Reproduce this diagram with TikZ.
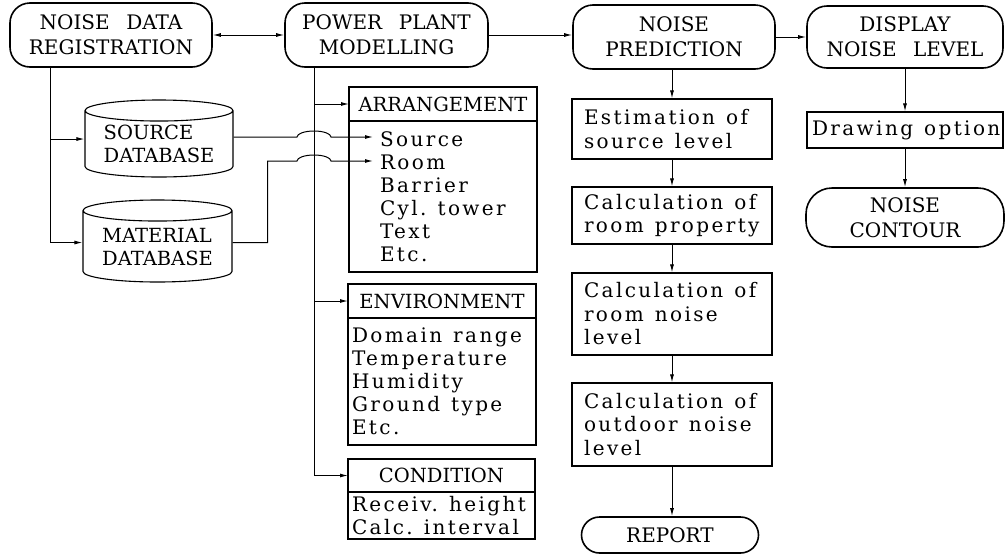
\documentclass[tikz,border=0pt]{standalone}
\usepackage{fontspec}
\setmainfont{DejaVu Serif}
\newfontfamily\capsfont{DejaVu Serif}[WordSpace=2.6]
\newfontfamily\listfont{DejaVu Serif}[LetterSpace=12]
\newcommand{\ws}{\hspace{11pt}}
\usetikzlibrary{positioning,shapes.geometric,arrows.meta,calc}

\tikzset{
  conn/.style={-{Latex[length=8pt,width=4pt]}, line width=1pt},
  termbox/.style={draw, line width=1.6pt, rounded corners=20pt, align=center,
    font=\capsfont\fontsize{20}{25}\selectfont, inner sep=0pt},
  headbox/.style={draw, line width=1.1pt, font=\capsfont\fontsize{19.5}{23}\selectfont,
    inner sep=0pt, outer sep=0pt},
  listbox/.style={draw, line width=1.1pt, font=\listfont\fontsize{20}{23}\selectfont,
    align=left, inner ysep=0pt, outer sep=0pt},
  procbox/.style={draw, line width=1.1pt, font=\listfont\fontsize{20}{23.5}\selectfont,
    align=left, inner xsep=12pt, inner ysep=0pt},
  dbbox/.style={draw, cylinder, shape border rotate=90, aspect=0.19, line width=1.1pt,
    align=left, font=\capsfont\fontsize{19.5}{23}\selectfont, inner sep=0pt, anchor=shape center}
}

\begin{document}
\begin{tikzpicture}[x=1pt,y=1pt]
    \useasboundingbox (0,0) rectangle (1005,-555);

    % top row
    \node[termbox, minimum width=202, minimum height=64] (ndr) at (111,-35) {NOISE DATA\\REGISTRATION};
    \node[termbox, minimum width=203, minimum height=64] (ppm) at (386.5,-35) {POWER PLANT\\MODELLING};
    \node[termbox, minimum width=202, minimum height=64] (np) at (674,-37) {NOISE\\PREDICTION};
    \node[termbox, minimum width=196, minimum height=62] (dnl) at (905,-37) {DISPLAY\\NOISE LEVEL};

    % databases
    \node[dbbox, minimum width=148, minimum height=77] (src) at (159,-138.5) {SOURCE\\DATABASE};
    \node[dbbox, minimum width=149, minimum height=82] (mat) at (157.5,-241) {MATERIAL\\DATABASE};

    % model items
    \node[headbox, minimum width=188, minimum height=34] (arrh) at (443,-104) {ARRANGEMENT};
    \node[listbox, below=0pt of arrh, minimum height=151, text width=126, inner xsep=31] (arrb)
        {Source\\Room\\Barrier\\Cyl.\ws tower\\Text\\Etc.};
    \node[headbox, minimum width=188, minimum height=34] (envh) at (442,-301) {ENVIRONMENT};
    \node[listbox, below=0pt of envh, minimum height=127, text width=180, inner xsep=4] (envb)
        {Domain\ws range\\Temperature\\Humidity\\Ground\ws type\\Etc.};
    \node[headbox, minimum width=187, minimum height=33] (condh) at (441.5,-475.5) {CONDITION};
    \node[listbox, below=0pt of condh, minimum height=47, text width=179, inner xsep=4] (condb)
        {Receiv.\ws height\\Calc.\ws interval};

    % prediction steps
    \node[procbox, text width=176, minimum height=60] (est) at (672,-129) {Estimation\ws of\\source\ws level};
    \node[procbox, text width=176, minimum height=57] (rprop) at (672,-215.5) {Calculation\ws of\\room\ws property};
    \node[procbox, text width=176, minimum height=82] (rnoise) at (672,-314) {Calculation\ws of\\room\ws noise\\level};
    \node[procbox, text width=176, minimum height=83] (outd) at (672,-424.5) {Calculation\ws of\\outdoor\ws noise\\level};
    \node[termbox, rounded corners=18pt, minimum width=177, minimum height=36] (report) at (670,-535) {REPORT};

    % display
    \node[procbox, inner xsep=5, text width=186, minimum height=36] (dopt) at (905,-130) {Drawing\ws option};
    \node[termbox, rounded corners=26pt, minimum width=198, minimum height=59] (contour) at (905,-217.5) {NOISE\\CONTOUR};

    % connectors
    \coordinate (ndrline) at ([xshift=-61]ndr.south);
    \coordinate (ppmline) at ([xshift=-72.5]ppm.south);
    \coordinate (srcin) at ([xshift=24,yshift=-16]arrb.north west);
    \coordinate (roomin) at ([xshift=24,yshift=-40]arrb.north west);

    \draw[conn, {Latex[length=8pt,width=4pt]}-{Latex[length=8pt,width=4pt]}] (ndr.east) -- (ndr.east -| ppm.west);
    \draw[conn] (ppm.east) -- (ppm.east -| np.west);
    \draw[conn] (np.east) -- (np.east -| dnl.west);

    \draw[conn] (ndrline) |- ([yshift=5]src.west);
    \draw[conn] (ndrline) |- ([yshift=4]mat.west);

    \draw[conn] (ppmline) |- (arrh.west);
    \draw[conn] (ppmline) |- (envh.west);
    \draw[conn] (ppmline) |- (condh.west);

    \draw[conn] (src.east |- srcin) -- ([xshift=-17]ppmline |- srcin)
        arc[start angle=180, end angle=0, x radius=17, y radius=6] -- (srcin);
    \draw[conn] ([yshift=4]mat.east) -- ++(35,0) |- ([xshift=-17]ppmline |- roomin)
        arc[start angle=180, end angle=0, x radius=17, y radius=6] -- (roomin);

    \draw[conn] (est.north |- np.south) -- (est.north);
    \draw[conn] (est) -- (rprop);
    \draw[conn] (rprop) -- (rnoise);
    \draw[conn] (rnoise) -- (outd);
    \draw[conn] (outd.south) -- (outd.south |- report.north);

    \draw[conn] (dnl) -- (dopt);
    \draw[conn] (dopt) -- (contour);
\end{tikzpicture}
\end{document}
